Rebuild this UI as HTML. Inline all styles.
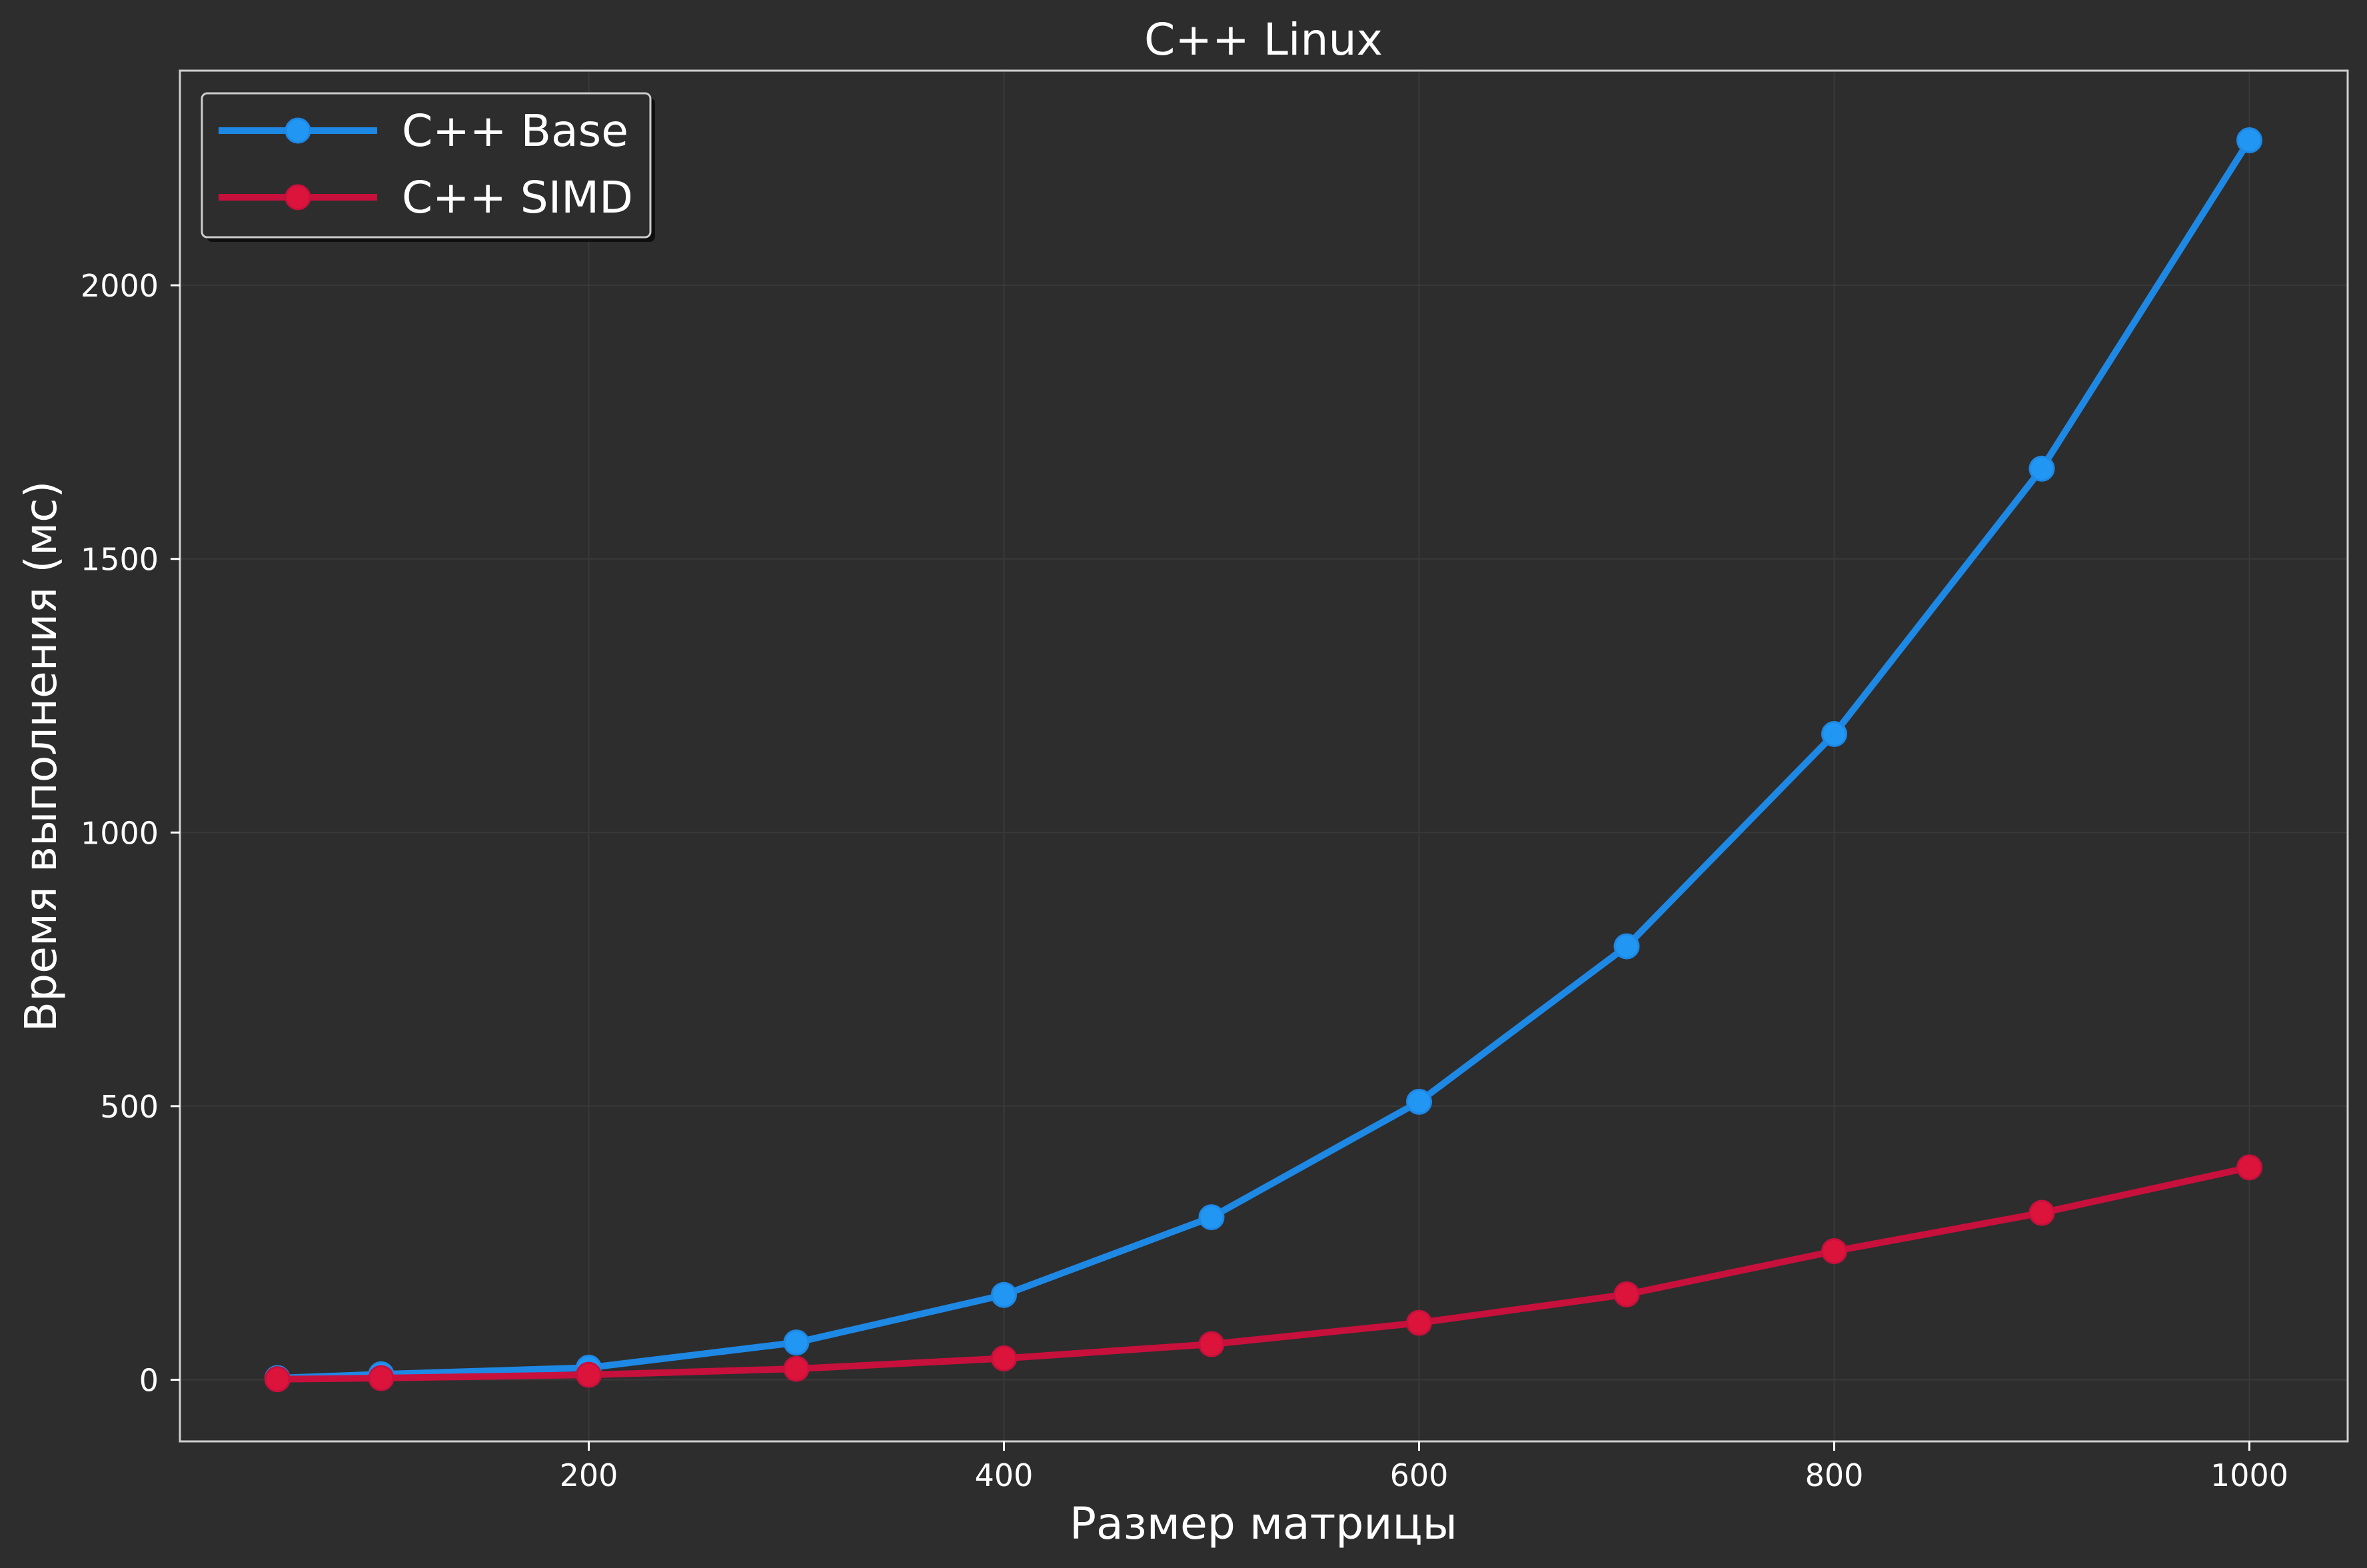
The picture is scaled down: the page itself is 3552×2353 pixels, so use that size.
<!DOCTYPE html>
<html><head><meta charset="utf-8"><style>
html,body{margin:0;padding:0;background:#2d2d2d;}
svg{display:block;font-family:"DejaVu Sans","Liberation Sans",sans-serif;}
</style></head><body>
<svg id="chart" width="3552" height="2353" viewBox="0 0 3552 2353" xmlns="http://www.w3.org/2000/svg">
<rect width="3552" height="2353" fill="#2d2d2d"/>
<g id="grid"></g>
<rect x="270" y="106" width="3253" height="2057" fill="none" stroke="#cfcfcf" stroke-width="3"/>
<g id="ticks"></g>
<g id="series"></g>
<text x="1896" y="82" fill="#ffffff" font-size="66" text-anchor="middle" textLength="358" lengthAdjust="spacingAndGlyphs">C++ Linux</text>
<text x="1896" y="2309" fill="#ffffff" font-size="66" text-anchor="middle" textLength="582" lengthAdjust="spacingAndGlyphs">Размер матрицы</text>
<text x="0" y="0" transform="translate(84,1135) rotate(-90)" fill="#ffffff" font-size="66" text-anchor="middle" textLength="827" lengthAdjust="spacingAndGlyphs">Время выполнения (мс)</text>
<g>
<rect x="310" y="147" width="673" height="216" rx="8" fill="#0a0a0a" opacity="0.85"/>
<rect x="303" y="140" width="673" height="216" rx="8" fill="#2d2d2d" stroke="#cccccc" stroke-width="3"/>
<g>
<line x1="328" y1="196" x2="566" y2="196" stroke="#1e88e5" stroke-width="10"/>
<circle cx="447" cy="196" r="18" fill="#2196f3" stroke="#1e88e5" stroke-width="3"/>
<text x="603" y="219" fill="#ffffff" font-size="66" textLength="340" lengthAdjust="spacingAndGlyphs">C++ Base</text></g>
<g>
<line x1="328" y1="296" x2="566" y2="296" stroke="#c8103c" stroke-width="10"/>
<circle cx="447" cy="296" r="18" fill="#dc143c" stroke="#c8103c" stroke-width="3"/>
<text x="603" y="319" fill="#ffffff" font-size="66" textLength="347" lengthAdjust="spacingAndGlyphs">C++ SIMD</text></g>
</g>
</svg>
<script>
const sizes = [50,100,200,300,400,500,600,700,800,900,1000];
const baseTimes = [3,10,22,68,155,297,508,792,1180,1665,2265];
const simdTimes = [1,3,9,20,39,65,104,156,235,305,388];
const xTicks = [200,400,600,800,1000];
const yTicks = [0,500,1000,1500,2000];
const NS='http://www.w3.org/2000/svg';
const X = v => 260.5 + v*3.115;
const Y = v => 2070.5 - v*0.8212;
const grid=document.getElementById('grid'), ticks=document.getElementById('ticks'), series=document.getElementById('series');
function mk(tag, attrs, parent){const e=document.createElementNS(NS,tag);for(const k in attrs)e.setAttribute(k,attrs[k]);parent.appendChild(e);return e;}
xTicks.forEach(t=>{
  const g=mk('line',{x1:X(t),x2:X(t),y1:106,y2:2163,stroke:'#393939','stroke-width':2},grid);
  
  
  const tk=mk('line',{x1:X(t),x2:X(t),y1:2163,y2:2177,stroke:'#ffffff','stroke-width':3},ticks);
  
  
  const l=mk('text',{x:X(t),y:2230,fill:'#ffffff','font-size':46,'text-anchor':'middle'},ticks);
  l.textContent=t;
  
  
});
yTicks.forEach(t=>{
  const g=mk('line',{x1:270,x2:3523,y1:Y(t),y2:Y(t),stroke:'#393939','stroke-width':2},grid);
  
  
  const tk=mk('line',{x1:256,x2:270,y1:Y(t),y2:Y(t),stroke:'#ffffff','stroke-width':3},ticks);
  
  
  const l=mk('text',{x:238,y:Y(t)+17,fill:'#ffffff','font-size':46,'text-anchor':'end'},ticks);
  l.textContent=t;
  
  
});
function drawSeries(vals, stroke, fill, name){
  const p=mk('polyline',{points:sizes.map((s,i)=>X(s)+','+Y(vals[i])).join(' '),fill:'none',stroke:stroke,'stroke-width':10,'stroke-linejoin':'round'},series);
  
  
  sizes.forEach((s,i)=>{
    const c=mk('circle',{cx:X(s),cy:Y(vals[i]),r:18,fill:fill,stroke:stroke,'stroke-width':3},series);
    
    
  });
}
drawSeries(baseTimes,'#1e88e5','#2196f3','base');
drawSeries(simdTimes,'#c8103c','#dc143c','simd');
</script>
</body></html>
